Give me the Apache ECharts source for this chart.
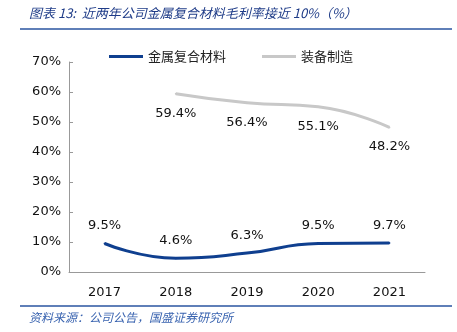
<!DOCTYPE html>
<html><head><meta charset="utf-8">
<script src="https://cdn.jsdelivr.net/npm/echarts@6/dist/echarts.min.js"></script>
<style>html,body{margin:0;padding:0;background:#fff}#c{width:457px;height:332px}</style>
</head><body><div id="c"></div>
<script>
const categories = ['2017','2018','2019','2020','2021'];
const metalComposite = [9.5, 4.6, 6.3, 9.5, 9.7];
const equipment = [null, 59.4, 56.4, 55.1, 48.2];
const seriesNames = ['金属复合材料','装备制造'];
const titleText = '图表 13:  近两年公司金属复合材料毛利率接近 10%（%）';
const sourceText = '资料来源：公司公告，国盛证券研究所';

const chart = echarts.init(document.getElementById('c'));
const cjk = '"Noto Sans CJK SC", sans-serif';
const numFont = 'Verdana, "DejaVu Sans", sans-serif';
chart.setOption({
  animation: false,
  textStyle: { fontFamily: cjk },
  graphic: [
    { type: 'text', left: 29, top: 7, style: { text: titleText, fill: '#1f3c88', font: 'italic 13px "Noto Sans CJK SC", sans-serif' } },
    { type: 'line', shape: { x1: 20, y1: 29, x2: 452, y2: 29 }, style: { stroke: '#2a55a0', lineWidth: 1.5 } },
    { type: 'line', shape: { x1: 20, y1: 306, x2: 452, y2: 306 }, style: { stroke: '#2a55a0', lineWidth: 1.5 } },
    { type: 'text', left: 29, top: 311, style: { text: sourceText, fill: '#3a64b0', font: 'italic 12px "Noto Sans CJK SC", sans-serif' } }
  ],
  legend: {
    top: 45, left: 104, itemGap: 36, itemWidth: 34, itemHeight: 3,
    icon: 'rect',
    textStyle: { fontSize: 13, color: '#222', fontFamily: cjk },
    data: seriesNames
  },
  grid: { left: 69, right: 32, top: 62, bottom: 60 },
  xAxis: {
    type: 'category', data: categories, boundaryGap: true,
    axisLine: { lineStyle: { color: '#999' } },
    axisTick: { inside: true, length: 4, lineStyle: { color: '#999' } },
    axisLabel: { fontSize: 13, color: '#111', margin: 14, fontFamily: numFont }
  },
  yAxis: {
    type: 'value', min: 0, max: 70, interval: 10,
    axisLine: { show: true, lineStyle: { color: '#999' } },
    axisTick: { show: true, inside: true, length: 4, lineStyle: { color: '#999' } },
    splitLine: { show: false },
    axisLabel: { formatter: '{value}%', fontSize: 13, color: '#111', margin: 8, fontFamily: numFont }
  },
  series: [
    { name: seriesNames[0], type: 'line', data: metalComposite, smooth: 0.5, symbol: 'circle', symbolSize: 2, showSymbol: true,
      lineStyle: { color: '#0f3f8f', width: 3 }, itemStyle: { color: '#0f3f8f', borderWidth: 0 },
      label: { show: true, position: 'top', distance: 10, formatter: p => p.value.toFixed(1) + '%', fontSize: 13, color: '#111', fontFamily: numFont } },
    { name: seriesNames[1], type: 'line', data: equipment, smooth: 0.5, symbol: 'circle', symbolSize: 2, showSymbol: true, connectNulls: false,
      lineStyle: { color: '#c8c8c8', width: 3 }, itemStyle: { color: '#c8c8c8', borderWidth: 0 },
      label: { show: true, position: 'bottom', distance: 12, formatter: p => p.value == null ? '' : p.value.toFixed(1) + '%', fontSize: 13, color: '#111', fontFamily: numFont } }
  ]
});
</script></body></html>
